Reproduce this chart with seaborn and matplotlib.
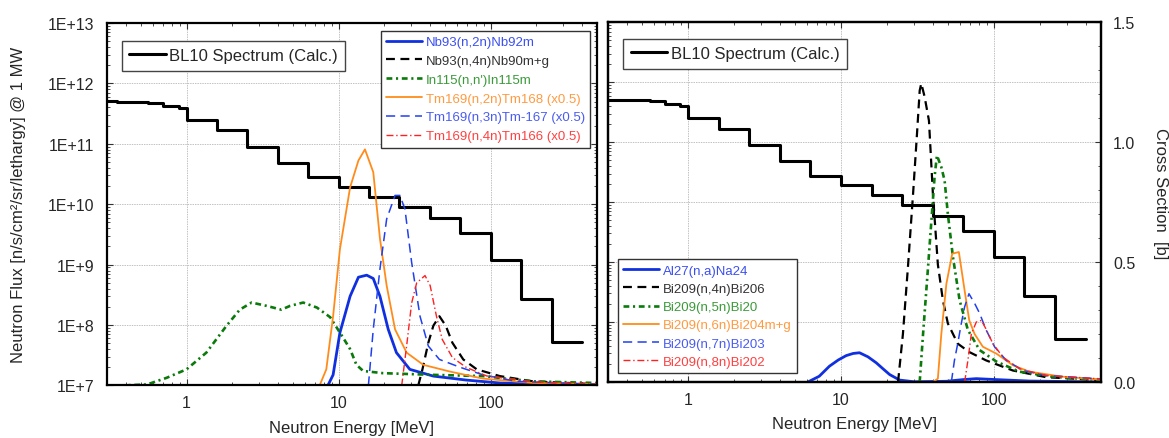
import numpy as np
import matplotlib
matplotlib.use("Agg")
import matplotlib.pyplot as plt
import matplotlib.ticker as mticker
import seaborn as sns

# ---- BL10 spectrum (bin edges [MeV] and flux per bin) ----
spec_edges = [0.3, 0.35, 0.56, 0.70, 0.89, 1.0, 1.585, 2.512, 3.981, 6.31, 10.0,
              15.85, 25.12, 39.81, 63.1, 100.0, 158.5, 251.2, 398.1]
spec_flux = [5.1e11, 4.97e11, 4.83e11, 4.27e11, 3.95e11, 2.5e11, 1.68e11, 8.9e10,
             4.9e10, 2.78e10, 1.95e10, 1.31e10, 8.96e9, 5.9e9, 3.3e9, 1.2e9, 2.7e8, 5.3e7]

# ---- left panel: activation curves (plotted on flux scale) ----
nb92_e = [8.5, 9.2, 10.2, 11.9, 13.5, 15.3, 16.9, 18.7, 21.2, 24, 29.4, 42, 69, 115, 500]
nb92_f = [1e7, 1.5e7, 7.5e7, 3e8, 6.2e8, 6.7e8, 5.9e8, 3e8, 8.5e7, 3.5e7, 1.85e7, 1.43e7,
          1.23e7, 1.1e7, 1.02e7]

nb90_e = [33.4, 35.6, 38.9, 42, 46, 50.6, 56, 66, 81, 115, 190, 500]
nb90_f = [1e7, 1.86e7, 5.1e7, 9.8e7, 1.4e8, 9.8e7, 5.1e7, 2.7e7, 1.85e7, 1.43e7, 1.17e7, 1.05e7]

in115_e = [0.36, 0.55, 0.74, 1.0, 1.35, 1.83, 2.24, 2.68, 3.36, 4.2, 4.8, 5.85, 7.2, 8.8,
           10.7, 11.9, 13.1, 14.5, 19.6, 42, 89, 190, 500]
in115_f = [1e7, 1.04e7, 1.34e7, 1.85e7, 3.5e7, 9.7e7, 1.8e8, 2.36e8, 2.08e8, 1.8e8, 2.08e8,
           2.36e8, 1.95e8, 1.35e8, 6.2e7, 4e7, 2.2e7, 1.74e7, 1.6e7, 1.5e7, 1.43e7, 1.17e7, 1.1e7]

tm168_e = [7.5, 8.3, 9.2, 10.2, 11.9, 13.5, 14.9, 16.9, 18.7, 20.7, 23.5, 28, 36, 54, 89, 190, 500]
tm168_f = [1e7, 1.85e7, 1.4e8, 1.8e9, 1.9e10, 5.3e10, 8.1e10, 3.4e10, 2.7e9, 4.5e8, 8.5e7,
           3.5e7, 2.2e7, 1.7e7, 1.3e7, 1.1e7, 1.05e7]

tm167_e = [15.7, 16.9, 18.7, 20.7, 23.5, 25.3, 27.3, 30.2, 34.3, 38.9, 46, 63, 89, 148, 500]
tm167_f = [1e7, 8.5e7, 8.5e8, 5.7e9, 1.4e10, 1.4e10, 8.3e9, 1.1e9, 1.4e8, 4.5e7, 2.7e7, 2e7,
           1.5e7, 1.17e7, 1.05e7]

tm166_e = [26, 28, 30.2, 32.6, 37, 40, 44, 48, 56, 69, 94, 190, 500]
tm166_f = [1e7, 4.5e7, 2.3e8, 5e8, 6.6e8, 4.5e8, 1.4e8, 5.8e7, 2.9e7, 2e7, 1.44e7, 1.15e7, 1.05e7]

# ---- right panel: cross sections [b] ----
al27_e = [6.07, 7.2, 8.4, 9.6, 10.8, 12.0, 13.2, 15.0, 17, 18.9, 20.8, 24.2, 30, 48.9, 62.8,
          76.7, 104, 171, 500]
al27_cs = [0, 0.024, 0.066, 0.092, 0.11, 0.119, 0.122, 0.105, 0.08, 0.054, 0.031, 0.008,
           0.001, 0.003, 0.01, 0.014, 0.01, 0.004, 0.0]

bi206_e = [23.6, 25.4, 27.4, 29.6, 31.4, 32.7, 33.5, 35.2, 37.6, 39.9, 43, 46.4, 50, 58, 69,
           89, 133, 220, 500]
bi206_cs = [0, 0.2, 0.48, 0.785, 1.035, 1.215, 1.245, 1.19, 1.09, 0.785, 0.49, 0.34, 0.244,
            0.16, 0.125, 0.09, 0.048, 0.02, 0.008]

bi205_e = [32.7, 34.4, 37.1, 39.6, 40.9, 42.4, 45.3, 47.6, 50, 54, 59.7, 67.6, 80.7, 104,
           147, 243, 500]
bi205_cs = [0, 0.2, 0.48, 0.73, 0.854, 0.945, 0.896, 0.84, 0.70, 0.52, 0.34, 0.217, 0.133,
            0.085, 0.043, 0.022, 0.008]

bi204_e = [39.9, 43, 45.3, 48.9, 53.4, 59, 64.4, 69, 74.8, 84.7, 104, 133, 171, 282, 500]
bi204_cs = [0, 0.014, 0.2, 0.41, 0.535, 0.542, 0.38, 0.257, 0.2, 0.147, 0.118, 0.07, 0.043,
            0.022, 0.01]

bi203_e = [52.7, 55.2, 58, 61.2, 64.4, 68.7, 74.8, 80.7, 89, 101, 120.5, 155, 220, 500]
bi203_cs = [0, 0.09, 0.16, 0.244, 0.314, 0.368, 0.328, 0.286, 0.217, 0.147, 0.09, 0.048,
            0.027, 0.013]

bi202_e = [64.4, 67.6, 71.2, 76.7, 82.8, 89, 98.5, 114.5, 147, 220, 500]
bi202_cs = [0, 0.09, 0.2, 0.25, 0.257, 0.22, 0.16, 0.104, 0.055, 0.027, 0.013]

left_labels = ["Nb93(n,2n)Nb92m", "Nb93(n,4n)Nb90m+g", "In115(n,n')In115m",
               "Tm169(n,2n)Tm168 (x0.5)", "Tm169(n,3n)Tm-167 (x0.5)", "Tm169(n,4n)Tm166 (x0.5)"]
right_labels = ["Al27(n,a)Na24", "Bi209(n,4n)Bi206", "Bi209(n,5n)Bi20",
                "Bi209(n,6n)Bi204m+g", "Bi209(n,7n)Bi203", "Bi209(n,8n)Bi202"]

energy_ticks = [1, 10, 100]
flux_ticks = [1e7, 1e8, 1e9, 1e10, 1e11, 1e12, 1e13]
cs_ticks = [0, 0.5, 1.0, 1.5]

# line styles shared by both panels (color, width, linestyle, text color)
styles = [
    ("#1030e0", 2.0, "-", "#3c50f0"),
    ("black", 1.6, (0, (4, 2.5)), "#333333"),
    ("#0a7a0a", 1.9, (0, (2.2, 1.4, 0.8, 1.4)), "#3a9a3a"),
    ("#ff8c1a", 1.3, "-", "#ff9a40"),
    ("#2040f0", 1.1, (0, (6, 3.5)), "#4a5cf0"),
    ("#ff2020", 1.0, (0, (5, 2, 1, 2)), "#ff4040"),
]

sns.set_theme(style="ticks")
plt.rcParams["font.family"] = ["Liberation Sans", "DejaVu Sans"]
plt.rcParams["xtick.direction"] = "in"
plt.rcParams["ytick.direction"] = "in"

fig = plt.figure(figsize=(11.69, 4.39), dpi=100)
ax1 = fig.add_axes([0.09153, 0.1196, 0.41916, 0.8257])
ax2 = fig.add_axes([0.52036, 0.12756, 0.42122, 0.8194])


def setup_flux_axis(ax):
    ax.set_xscale("log")
    ax.set_yscale("log")
    ax.set_xlim(0.3, 500)
    ax.set_ylim(1e7, 1e13)
    ax.xaxis.set_major_locator(mticker.FixedLocator(energy_ticks))
    ax.yaxis.set_major_locator(mticker.FixedLocator(flux_ticks))
    ax.yaxis.set_minor_locator(mticker.LogLocator(base=10, subs=np.arange(2, 10), numticks=10))
    ax.xaxis.set_minor_formatter(mticker.NullFormatter())
    ax.yaxis.set_minor_formatter(mticker.NullFormatter())
    ax.xaxis.set_major_formatter(mticker.FuncFormatter(lambda v, p: f"{v:g}"))
    ax.grid(True, which="major", color="#c2c2c2", lw=0.7, linestyle=(0, (1.5, 1)))
    for s in ax.spines.values():
        s.set_linewidth(1.6)
        s.set_color("black")
    ax.tick_params(which="both", direction="in", top=True, right=True, color="#333333")
    ax.tick_params(which="major", length=4, width=0.8)
    ax.tick_params(which="minor", length=2.5, width=0.6)
    ax.tick_params(axis="x", labelsize=11.5, pad=7)
    ax.set_xlabel("Neutron Energy [MeV]", fontsize=12, labelpad=7)
    # spectrum
    sns.lineplot(x=spec_edges, y=spec_flux + [spec_flux[-1]], ax=ax, color="black",
                 lw=2.2, drawstyle="steps-post", label="BL10 Spectrum (Calc.)", legend=False)


setup_flux_axis(ax1)
setup_flux_axis(ax2)

ax1.yaxis.set_major_formatter(
    mticker.FuncFormatter(lambda v, p: f"1E+{int(round(np.log10(v)))}"))
ax1.tick_params(axis="y", labelsize=11.5, pad=9)
ax1.set_ylabel("Neutron Flux [n/s/cm²/sr/lethargy] @ 1 MW", fontsize=12, va="center")
ax1.yaxis.set_label_coords(-0.18, 0.5)
ax2.tick_params(axis="y", labelleft=False)

# left panel curves
left_data = [(nb92_e, nb92_f), (nb90_e, nb90_f), (in115_e, in115_f),
             (tm168_e, tm168_f), (tm167_e, tm167_f), (tm166_e, tm166_f)]
left_handles = []
for (xe, yf), lab, (c, lw, ls, tc) in zip(left_data, left_labels, styles):
    sns.lineplot(x=xe, y=yf, ax=ax1, color=c, lw=lw, linestyle=ls, legend=False)
    left_handles.append(ax1.lines[-1])

# right panel curves on a cross-section axis
tw = ax2.twinx()
tw.set_ylim(0, 1.5)
right_data = [(al27_e, al27_cs), (bi206_e, bi206_cs), (bi205_e, bi205_cs),
              (bi204_e, bi204_cs), (bi203_e, bi203_cs), (bi202_e, bi202_cs)]
right_handles = []
for (xe, yc), lab, (c, lw, ls, tc) in zip(right_data, right_labels, styles):
    sns.lineplot(x=xe, y=yc, ax=tw, color=c, lw=lw, linestyle=ls, legend=False)
    right_handles.append(tw.lines[-1])
tw.set_xlim(0.3, 500)
tw.set_ylim(0, 1.5)
tw.yaxis.set_major_locator(mticker.FixedLocator(cs_ticks))
tw.yaxis.set_major_formatter(mticker.FormatStrFormatter("%.1f"))
tw.yaxis.set_minor_locator(mticker.MultipleLocator(0.1))
tw.tick_params(which="both", direction="in", color="#333333")
tw.tick_params(which="major", length=4, width=0.8, labelsize=11.5, pad=9)
tw.tick_params(which="minor", length=2.5, width=0.6)
tw.grid(False)
for s in tw.spines.values():
    s.set_linewidth(1.6)
    s.set_color("black")
tw.set_ylabel("Cross Section  [b]", fontsize=12, rotation=270, va="center")
tw.yaxis.set_label_coords(1.122, 0.527)
ax2.tick_params(axis="y", which="both", right=False)


def spectrum_legend(ax, anchor):
    leg = ax.legend(handles=[ax.lines[0]], labels=["BL10 Spectrum (Calc.)"],
                    loc="upper left", bbox_to_anchor=anchor, borderaxespad=0,
                    fontsize=12, frameon=True, fancybox=False, framealpha=1,
                    edgecolor="#444444", handlelength=2.2, handletextpad=0.2,
                    borderpad=0.45)
    leg.get_frame().set_linewidth(1.0)
    return leg


leg1 = ax1.legend(handles=left_handles, labels=left_labels, loc="upper right",
                  bbox_to_anchor=(0.986, 0.979), borderaxespad=0, fontsize=9.5,
                  frameon=True, fancybox=False, framealpha=1, edgecolor="#333333",
                  handlelength=2.7, handletextpad=0.3, labelspacing=0.5, borderpad=0.4)
leg1.get_frame().set_linewidth(1.0)
ax1.add_artist(leg1)
spectrum_legend(ax1, (0.030, 0.951))
for t, st in zip(leg1.get_texts(), styles):
    t.set_color(st[3])

spectrum_legend(ax2, (0.0305, 0.954))
leg2 = tw.legend(handles=right_handles, labels=right_labels, loc="lower left",
                 bbox_to_anchor=(0.019, 0.025), borderaxespad=0, fontsize=9.5,
                 frameon=True, fancybox=False, framealpha=1, edgecolor="#333333",
                 handlelength=2.7, handletextpad=0.3, labelspacing=0.45, borderpad=0.4)
leg2.get_frame().set_linewidth(1.0)
for t, st in zip(leg2.get_texts(), styles):
    t.set_color(st[3])

fig.savefig("out.png", dpi=100)
